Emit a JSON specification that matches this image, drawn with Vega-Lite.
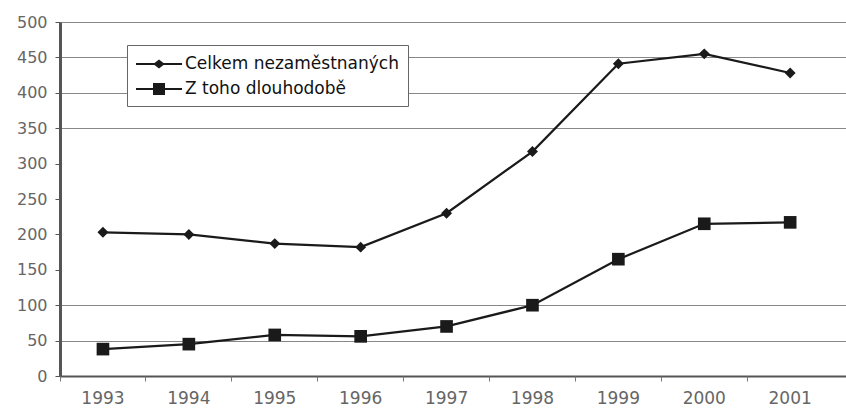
{
  "$schema": "https://vega.github.io/schema/vega-lite/v6.json",
  "width": 786,
  "height": 354,
  "autosize": {"type": "none"},
  "padding": {"left": 60, "top": 22, "right": 0, "bottom": 32},
  "background": "white",
  "config": {"view": {"stroke": null}, "font": "DejaVu Sans"},
  "data": {
    "values": [
      {"year": "1993", "series": "Celkem nezaměstnaných", "value": 203},
      {"year": "1994", "series": "Celkem nezaměstnaných", "value": 200},
      {"year": "1995", "series": "Celkem nezaměstnaných", "value": 187},
      {"year": "1996", "series": "Celkem nezaměstnaných", "value": 182},
      {"year": "1997", "series": "Celkem nezaměstnaných", "value": 230},
      {"year": "1998", "series": "Celkem nezaměstnaných", "value": 317},
      {"year": "1999", "series": "Celkem nezaměstnaných", "value": 441},
      {"year": "2000", "series": "Celkem nezaměstnaných", "value": 455},
      {"year": "2001", "series": "Celkem nezaměstnaných", "value": 428},
      {"year": "1993", "series": "Z toho dlouhodobě", "value": 38},
      {"year": "1994", "series": "Z toho dlouhodobě", "value": 45},
      {"year": "1995", "series": "Z toho dlouhodobě", "value": 58},
      {"year": "1996", "series": "Z toho dlouhodobě", "value": 56},
      {"year": "1997", "series": "Z toho dlouhodobě", "value": 70},
      {"year": "1998", "series": "Z toho dlouhodobě", "value": 100},
      {"year": "1999", "series": "Z toho dlouhodobě", "value": 165},
      {"year": "2000", "series": "Z toho dlouhodobě", "value": 215},
      {"year": "2001", "series": "Z toho dlouhodobě", "value": 217}
    ]
  },
  "layer": [
    {
      "mark": {"type": "line", "color": "#1a1a1a", "strokeWidth": 2.2},
      "encoding": {
        "detail": {"field": "series", "type": "nominal"},
        "x": {
          "field": "year", "type": "ordinal",
          "scale": {"type": "band", "paddingInner": 0, "paddingOuter": 0.075, "align": 0},
          "axis": {"title": null, "labelAngle": 0, "ticks": false, "domainColor": "#555", "domainWidth": 2,
                   "labelFont": "DejaVu Sans", "labelFontSize": 17, "labelColor": "#666", "labelPadding": 14, "grid": false}
        },
        "y": {
          "field": "value", "type": "quantitative",
          "scale": {"domain": [0, 500], "nice": false},
          "axis": {"title": null, "grid": false, "values": [0, 50, 100, 150, 200, 250, 300, 350, 400, 450, 500],
                   "domainColor": "#555", "domainWidth": 3, "tickColor": "#555", "tickSize": 5,
                   "labelFont": "DejaVu Sans", "labelFontSize": 16, "labelColor": "#666", "labelPadding": 8}
        }
      }
    },
    {
      "mark": {"type": "point", "filled": true, "color": "#1a1a1a", "opacity": 1},
      "encoding": {
        "x": {
          "field": "year", "type": "ordinal",
          "scale": {"type": "band", "paddingInner": 0, "paddingOuter": 0.075, "align": 0},
          "axis": {"orient": "bottom", "title": null, "labels": false, "domain": false, "ticks": true,
                   "bandPosition": 0, "tickSize": 5, "tickColor": "#777", "grid": false}
        },
        "y": {
          "field": "value", "type": "quantitative",
          "scale": {"domain": [0, 500], "nice": false},
          "axis": {"orient": "right", "title": null, "labels": false, "ticks": false, "domain": false,
                   "grid": true, "gridColor": "#888", "gridWidth": 1, "values": [50, 100, 350, 400, 450, 500]}
        },
        "shape": {"condition": {"test": "datum.series == 'Z toho dlouhodobě'", "value": "square"}, "value": "diamond"},
        "size": {"condition": {"test": "datum.series == 'Z toho dlouhodobě'", "value": 160}, "value": 120}
      }
    },
    {
      "mark": {"type": "point", "filled": true, "color": "#1a1a1a", "opacity": 0},
      "encoding": {
        "x": {"field": "year", "type": "ordinal", "axis": null},
        "y": {"field": "value", "type": "quantitative", "axis": null},
        "shape": {
          "field": "series", "type": "nominal",
          "scale": {"range": ["M-2.3,-0.1H-0.45L0,-0.45L0.45,-0.1H2.3V0.1H0.45L0,0.45L-0.45,0.1H-2.3Z", "M-2.3,-0.1H-0.6V-0.6H0.6V-0.1H2.3V0.1H0.6V0.6H-0.6V0.1H-2.3Z"]},
          "legend": {
            "title": null, "orient": "none", "legendX": 67, "legendY": 23,
            "strokeColor": "#666", "fillColor": "white", "padding": 9,
            "symbolSize": 400, "symbolFillColor": "#1a1a1a", "symbolStrokeWidth": 0,
            "symbolOpacity": 1,
            "labelFont": "DejaVu Sans", "labelFontSize": 17, "labelColor": "#111", "labelLimit": 400,
            "symbolOffset": 13, "labelOffset": 16, "rowPadding": 7
          }
        }
      }
    }
  ],
  "resolve": {"axis": {"x": "independent", "y": "independent"}}
}
